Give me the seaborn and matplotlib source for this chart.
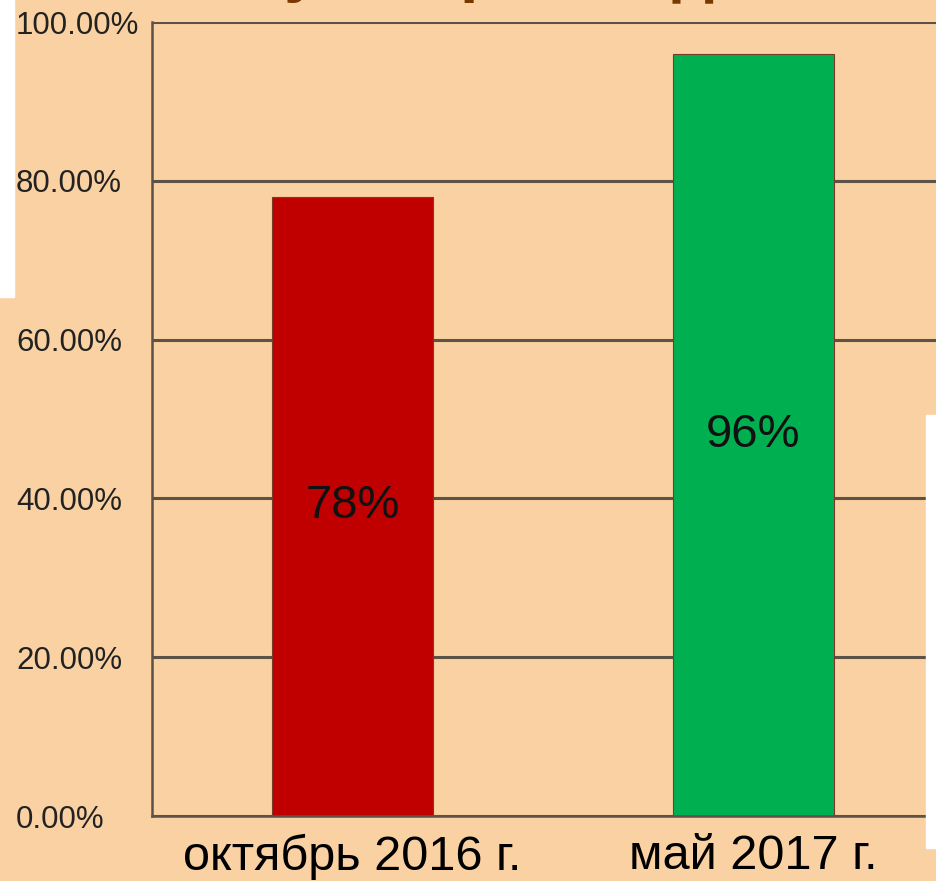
"""Bar chart: October 2016 vs May 2017 share"""

import matplotlib
matplotlib.use('Agg')
import matplotlib.pyplot as plt
import matplotlib.patches as mpatches
from matplotlib.ticker import PercentFormatter, FixedLocator
import seaborn as sns

W, H = 936, 881
DPI = 100

PERIODS = ['октябрь 2016 г.', 'май 2017 г.']
SHARES = [0.78, 0.96]
BAR_LABELS = ['78%', '96%']
BAR_COLORS = ['#C00000', '#00B050']
Y_TICKS = [0.0, 0.2, 0.4, 0.6, 0.8, 1.0]

BG = '#F9D1A2'
GRID = '#5C5247'
TITLE_COLOR = '#7A3800'
FONT = ['Liberation Sans', 'DejaVu Sans']


def px_x(x):
    return x / W


def px_y(y):
    return 1 - y / H


sns.set_style('white')
plt.rcParams['font.family'] = FONT

fig = plt.figure(figsize=(W / DPI, H / DPI), dpi=DPI, facecolor=BG)
# axes run past the right edge of the picture, like the cropped slide
ax = fig.add_axes([px_x(152), px_y(816), (954 - 152) / W, (816 - 22) / H])
ax.set_facecolor('none')

sns.barplot(x=PERIODS, y=SHARES, hue=PERIODS, palette=BAR_COLORS, width=0.4,
            legend=False, ax=ax, edgecolor='#7a3a2a', linewidth=0.8, saturation=1)

ax.set_ylim(0, 1)
ax.set_xlim(-0.5, 1.5)
ax.yaxis.set_major_locator(FixedLocator(Y_TICKS))
ax.yaxis.set_major_formatter(PercentFormatter(xmax=1, decimals=2))
ax.grid(axis='y', color=GRID, linewidth=2.2)
ax.grid(axis='x', visible=False)
ax.set_axisbelow(True)

# category boundaries get the tick marks, names sit between them
ax.set_xticks([-0.5, 0.5, 1.5])
ax.set_xticklabels(['', '', ''])
ax.set_xticks([0, 1], minor=True)
ax.set_xticklabels(PERIODS, minor=True, fontsize=35, color='black')
ax.tick_params(axis='x', which='major', direction='out', length=7, width=1.6, color=GRID)
ax.tick_params(axis='x', which='minor', length=0, pad=13)
ax.tick_params(axis='y', direction='out', length=7, width=1.6, color=GRID,
               pad=91, labelsize=22.5, labelcolor='#222222')
for lab in ax.get_yticklabels():
    lab.set_horizontalalignment('left')

for s in ['top', 'right']:
    ax.spines[s].set_visible(False)
for s in ['left', 'bottom']:
    ax.spines[s].set_color(GRID)
    ax.spines[s].set_linewidth(1.8)
ax.set_xlabel('')
ax.set_ylabel('')

for i, (v, t) in enumerate(zip(SHARES, BAR_LABELS)):
    ax.text(i, v / 2, t, ha='center', va='center', fontsize=34, color='#111111')

# bits of the cut-off slide title peeking in at the top
for ch, x in [('у', 302), ('р', 480), ('д', 693)]:
    fig.text(px_x(x), 1 + 11 / H, ch, ha='center', va='baseline', fontsize=48,
             fontweight='bold', color=TITLE_COLOR)

# white slide margins showing at the edges
fig.patches.append(mpatches.Rectangle((0, px_y(297)), px_x(14), 297 / H,
                                      transform=fig.transFigure, color='white', zorder=5))
fig.patches.append(mpatches.Rectangle((px_x(926), px_y(848)), px_x(10), (848 - 415) / H,
                                      transform=fig.transFigure, color='white', zorder=5))

fig.savefig('out.png', dpi=DPI, facecolor=BG)
plt.close(fig)
